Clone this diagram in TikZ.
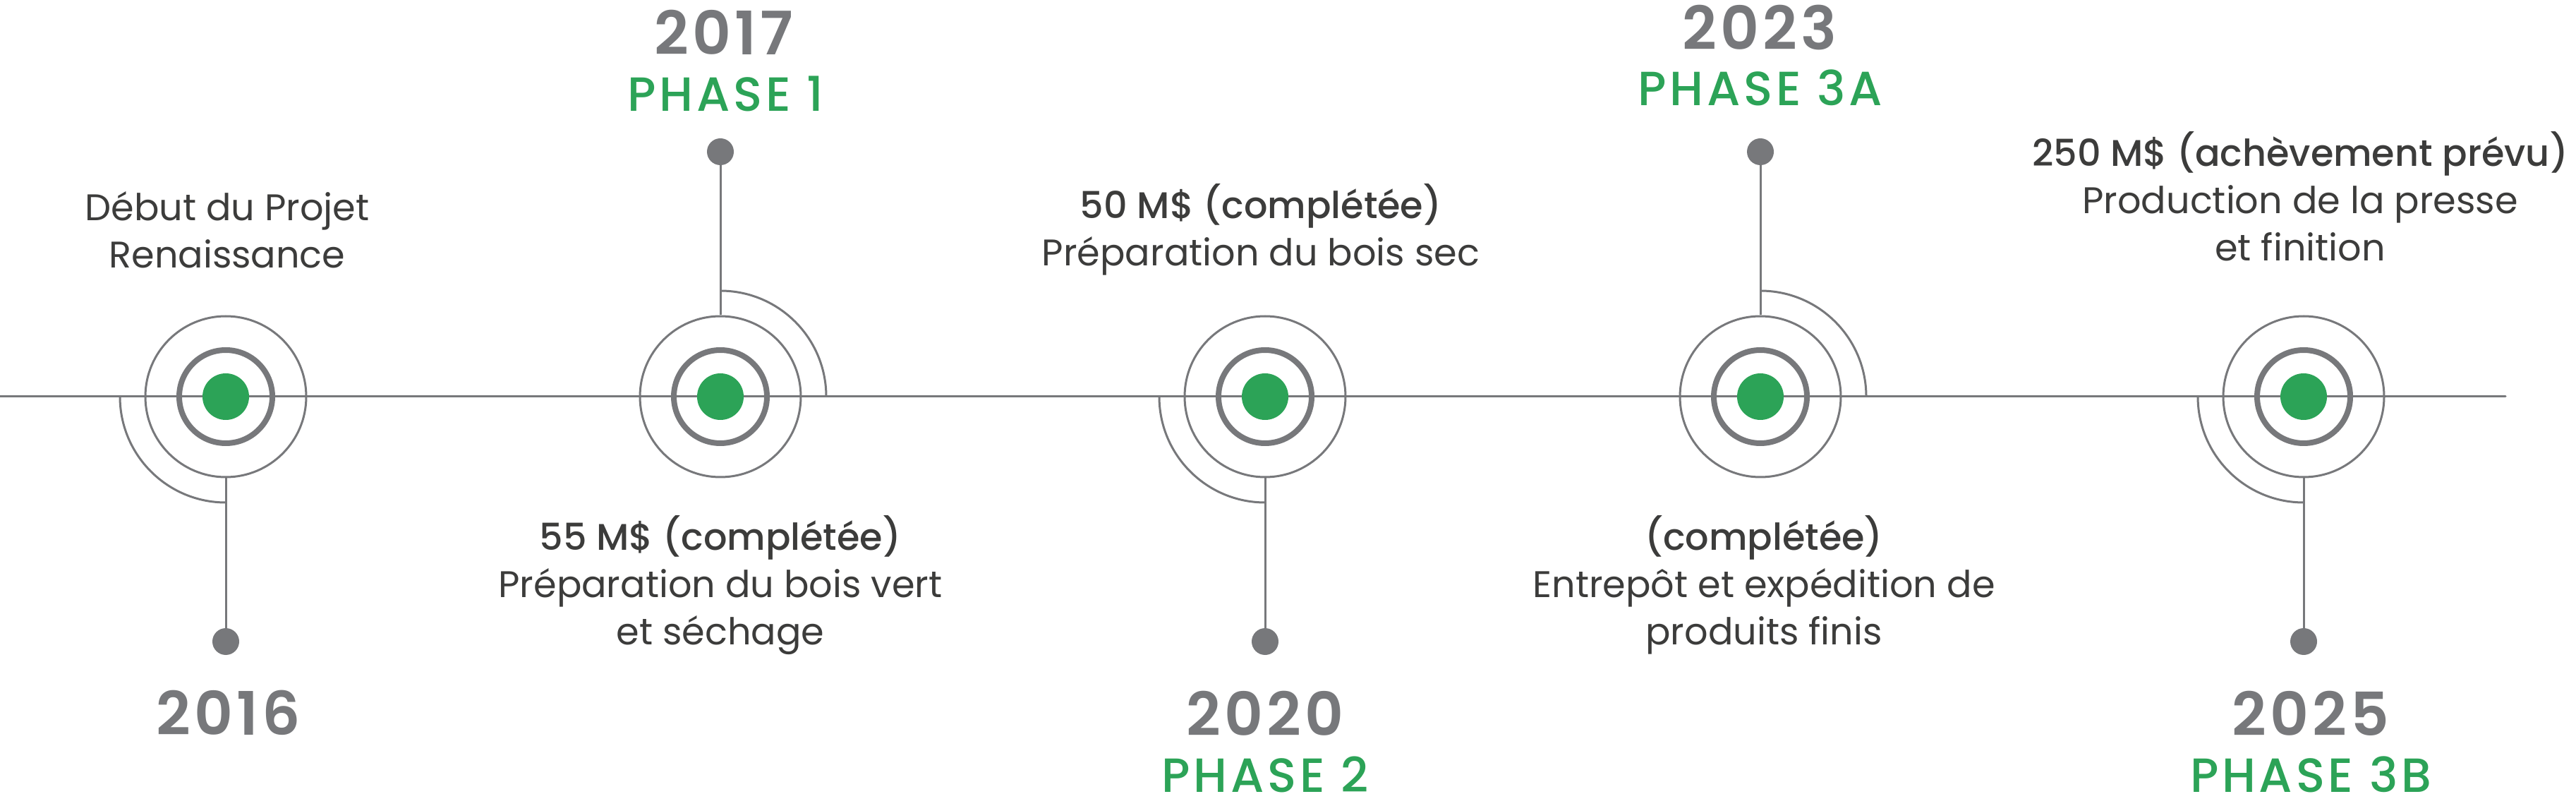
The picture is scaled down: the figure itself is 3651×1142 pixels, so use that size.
\documentclass[tikz,border=0pt]{standalone}
\usepackage{fontspec}
\setmainfont{Poppins}
\newfontfamily\bodyf{Poppins}
\newfontfamily\medf{Poppins Medium}
\newfontfamily\phasef{Poppins Medium}[LetterSpace=7]
\newfontfamily\semif{Poppins SemiBold}[LetterSpace=6]
\definecolor{tlgray}{HTML}{77787B}
\definecolor{tlgreen}{HTML}{2CA357}
\definecolor{txt}{HTML}{3C3C3B}
\begin{document}
\begin{tikzpicture}[x=1pt,y=1pt,
  line/.style={draw=tlgray,line width=3pt},
  greendot/.style={circle,fill=tlgreen,draw=none,minimum size=66pt,inner sep=0pt},
  ring/.style={circle,draw=tlgray,line width=8pt,minimum size=132pt,inner sep=0pt},
  outer/.style={circle,draw=tlgray,line width=3pt,minimum size=228pt,inner sep=0pt},
  enddot/.style={circle,fill=tlgray,draw=none,minimum size=38pt,inner sep=0pt},
  year/.style={anchor=base,inner sep=0pt,text=tlgray,font=\semif\fontsize{85}{85}\selectfont},
  phase/.style={anchor=base,inner sep=0pt,text=tlgreen,font=\phasef\fontsize{68}{68}\selectfont},
  body/.style={anchor=base,inner sep=0pt,text=txt,align=center,font=\bodyf\fontsize{52.5}{67}\selectfont}]
\useasboundingbox (0,-580) rectangle (3651,562);
\coordinate (tlstart) at (0,0);
\coordinate (tlend) at (3551,0);
\draw[line,line cap=round] (tlstart) -- (tlend);
\foreach \n/\x/\d in {1/320/-1, 2/1021/1, 3/1793/-1, 4/2495/1, 5/3265/-1} {
  \node[ring] (r\n) at (\x,0) {};
  \node[outer] (o\n) at (\x,0) {};
  \node[greendot] (m\n) at (\x,0) {};
  \node[enddot] (d\n) at (\x,347*\d) {};
  \draw[line] (o\n) -- (d\n);
  \draw[line] ([shift={({135-45*\d}:150)}]m\n.center) arc[start angle={135-45*\d}, end angle={135-135*\d}, radius=150];
}
% years and phases
\node[year] (y2016) at (324,-479) {2016};
\node[year] (y2017) at (1026,484) {2017};
\node[phase] (p1) at (1028,404) {PHASE 1};
\node[year] (y2020) at (1793,-480) {2020};
\node[phase] (p2) at (1793,-560) {PHASE 2};
\node[year] (y2023) at (2494,491) {2023};
\node[phase] (p3a) at (2495,412) {PHASE 3A};
\node[year] (y2025) at (3275,-480) {2025};
\node[phase] (p3b) at (3275,-560) {PHASE 3B};
% descriptions (anchor base = last line baseline)
\node[body] (t1) at (322,182) {Début du Projet\\Renaissance};
\node[body] (t2) at (1021,-351) {{\medf 55 M\$ (complétée)}\\Préparation du bois vert\\et séchage};
\node[body] (t3) at (1787,185) {{\medf 50 M\$ (complétée)}\\Préparation du bois sec};
\node[body] (t4) at (2500,-351) {{\medf (complétée)}\\Entrepôt et expédition de\\produits finis};
\node[body] (t5) at (3260,192) {{\medf 250 M\$ (achèvement prévu)}\\Production de la presse\\et finition};
\end{tikzpicture}
\end{document}
